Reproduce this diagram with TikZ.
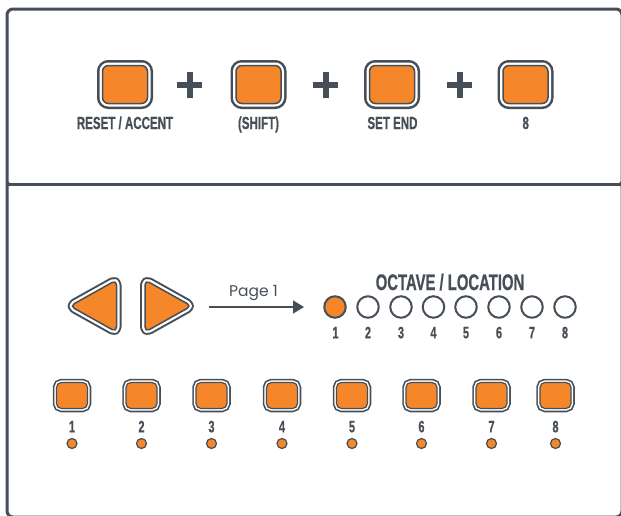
\documentclass[tikz,border=0pt]{standalone}
\usepackage{fontspec}
\usetikzlibrary{arrows.meta}
\newfontfamily\condfont{Liberation Sans}[FakeStretch=0.66,FakeBold=0.6]
\newfontfamily\pagefont{Poppins}
\definecolor{dk}{HTML}{464F58}
\definecolor{org}{HTML}{F5862A}
\begin{document}
\begin{tikzpicture}[x=1pt,y=-1pt,
  frame/.style={draw=dk, line width=3},
  bigbtn/.style={rectangle, rounded corners=6, minimum width=45, minimum height=38,
    inner sep=0, fill=org, draw=dk, line width=1.5,
    preaction={draw=dk, line width=11}, preaction={draw=white, line width=6}},
  smallbtn/.style={rectangle, rounded corners=5, minimum width=31, minimum height=26,
    inner sep=0, fill=org, draw=dk, line width=1.2,
    preaction={draw=dk, line width=7.5}, preaction={draw=white, line width=4.2}},
  tribtn/.style={rounded corners=5, line join=round, fill=org, draw=dk, line width=1.5,
    preaction={draw=dk, line width=10, line join=round}, preaction={draw=white, line width=6, line join=round}},
  ledoff/.style={circle, minimum size=21.5, inner sep=0, draw=dk, line width=2, fill=white},
  ledon/.style={ledoff, fill=org},
  dot/.style={circle, minimum size=10, inner sep=0, draw=dk, line width=1.2, fill=org},
  toplbl/.style={anchor=base, inner sep=0, text=dk, font=\condfont\bfseries\fontsize{17.5}{17.5}\selectfont},
  numlbl/.style={anchor=base, inner sep=0, text=dk, font=\condfont\bfseries\fontsize{16.5}{16.5}\selectfont},
  octlbl/.style={anchor=base, inner sep=0, text=dk, font=\condfont\bfseries\fontsize{22.5}{22.5}\selectfont},
  plusbar/.style={fill=dk}
]
\useasboundingbox (0,0) rectangle (621,515);
\clip (0,0) rectangle (621,515);
\fill[white] (0,0) rectangle (621,515);

% frame
\draw[frame, rounded corners=6] (7,9) rectangle (622,517);
\draw[frame] (7,184) -- (622,184);
\fill[dk] (7,178.5) .. controls (8,182.5) and (9,183) .. (13,184) .. controls (9,185) and (8,185.5) .. (7,189.5) -- cycle;
\fill[dk] (622,178.5) .. controls (621,182.5) and (620,183) .. (616,184) .. controls (620,185) and (621,185.5) .. (622,189.5) -- cycle;

% top buttons
\node[bigbtn] (b1) at (125,84.5) {};
\node[bigbtn] (b2) at (258.5,84.5) {};
\node[bigbtn] (b3) at (392,84.5) {};
\node[bigbtn] (b4) at (525.5,84.5) {};
\node[toplbl] (l1) at (125,129) {RESET / ACCENT};
\node[toplbl] (l2) at (258.5,129) {(SHIFT)};
\node[toplbl] (l3) at (392.5,129) {SET END};
\node[toplbl] (l4) at (525.7,129) {8};

% plus signs
\foreach \px in {189.5,325.5,459.5}{
  \fill[plusbar] (\px-12.5,82) rectangle (\px+12.5,88);
  \fill[plusbar] (\px-3,72) rectangle (\px+3,98);
}

% arrow buttons
\path[tribtn] (70,306) -- (116.5,280) -- (116.5,332) -- cycle;
\path[tribtn] (191.5,306) -- (145,280) -- (145,332) -- cycle;

% page arrow
\coordinate (arrS) at (209,307);
\coordinate (arrE) at (304,307);
\draw[dk, line width=1.6, -{Triangle[length=11pt,width=13pt]}] (arrS) -- (arrE);
\node[anchor=base, inner sep=0, text=dk, font=\pagefont\fontsize{15.5}{15.5}\selectfont] (pg) at (253.5,296.7) {Page 1};

% octave / location
\node[octlbl] (oct) at (450,290) {OCTAVE / LOCATION};
\node[ledon] (o1) at (335,307) {};
\foreach \i/\cx in {2/368,3/401,4/433.5,5/466,6/499,7/532,8/565}{
  \node[ledoff] (o\i) at (\cx,307) {};
}
\foreach \i/\cx in {1/335.5,2/368,3/401,4/433.5,5/466,6/499,7/532,8/565}{
  \node[numlbl] (on\i) at (\cx,338.3) {\i};
}

% bottom step buttons
\foreach \i/\cx in {1/72,2/141.5,3/211.5,4/282,5/352,6/421.5,7/491.5,8/555.5}{
  \node[smallbtn] (s\i) at (\cx,395.5) {};
  \node[numlbl] (sn\i) at (\cx,432.3) {\i};
  \node[dot] (sd\i) at (\cx,443.5) {};
}
\end{tikzpicture}
\end{document}
